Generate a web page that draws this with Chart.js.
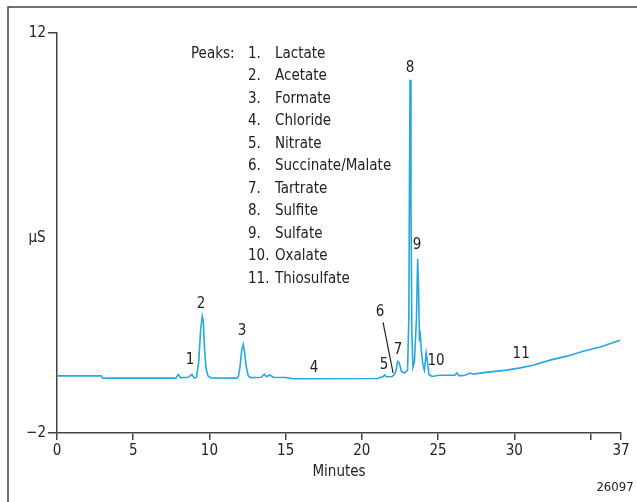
<!DOCTYPE html>
<html>
<head>
<meta charset="utf-8">
<script src="https://cdn.jsdelivr.net/npm/chart.js@4"></script>
<style>
  html, body { margin: 0; padding: 0; background: #fff; }
  #wrap { width: 637px; height: 502px; }
</style>
</head>
<body>
<div id="wrap"><canvas id="chromChart" width="637" height="502"></canvas></div>
<script>
// retention time (min) and conductivity (µS)
const times = [
  0, 2.9, 3.0, 7.8, 7.95, 8.1, 8.6, 8.85, 9.0,
  9.15, 9.3, 9.42, 9.53, 9.6, 9.68, 9.78, 9.9, 10.1, 11.8,
  11.9, 12.0, 12.12, 12.22, 12.3, 12.42, 12.55, 12.7, 13.4, 13.6, 13.75, 13.95, 14.2, 15.0, 15.5,
  21.0, 21.4, 21.5, 21.6, 22.0, 22.2, 22.35, 22.45, 22.6, 22.8, 23.0,
  23.08, 23.12, 23.16, 23.22, 23.28, 23.35, 23.45,
  23.58, 23.66, 23.72, 23.78, 23.84, 23.9, 24.0, 24.1,
  24.22, 24.3, 24.4, 24.6, 25.1, 26.1, 26.23, 26.4, 26.77, 27.1, 27.3,
  28.41, 29.51, 30.38, 31.23, 32.35, 33.44, 34.53, 35.63, 36.94
];
const conductivity = [
  0, 0, -0.08, -0.08, 0.05, -0.06, -0.05, 0.05, -0.08,
  -0.05, 0.5, 1.6, 2.09, 1.9, 0.9, 0.25, 0.0, -0.07, -0.08,
  -0.02, 0.3, 0.9, 1.1, 0.85, 0.3, 0.0, -0.06, -0.05, 0.06, -0.03, 0.03, -0.05, -0.06, -0.1,
  -0.09, -0.02, 0.03, -0.03, -0.02, 0.1, 0.5, 0.45, 0.15, 0.1, 0.2,
  2.0, 6.5, 10.36, 6.0, 1.5, 0.3, 0.5,
  2.0, 4.1, 3.0, 1.2, 1.4, 0.9, 0.4, 0.2,
  0.8, 0.5, 0.05, -0.02, 0.02, 0.02, 0.1, 0.0, 0.02, 0.1, 0.06,
  0.14, 0.2, 0.28, 0.37, 0.55, 0.69, 0.86, 1.01, 1.25
];

const xTicks = [0, 5, 10, 15, 20, 25, 30, 35, 37];
const xTickLabels = ['0', '5', '10', '15', '20', '25', '30', '', '37'];
const yTicks = [-2, 12];
const yTickLabels = ['\u22122', '12'];

const peakNames = ['Lactate', 'Acetate', 'Formate', 'Chloride', 'Nitrate', 'Succinate/Malate',
  'Tartrate', 'Sulfite', 'Sulfate', 'Oxalate', 'Thiosulfate'];
// where each peak number is written (minutes, µS)
const peakLabelTimes = [8.73, 9.45, 12.14, 16.86, 21.46, 21.19, 22.38, 23.16, 23.62, 24.87, 30.45];
const peakLabelValues = [0.55, 2.51, 1.57, 0.27, 0.37, 2.23, 0.9, 10.78, 4.58, 0.51, 0.76];

const FONT = "'Liberation Sans Narrow', 'DejaVu Sans Condensed', 'Arial Narrow', sans-serif";
const INK = '#222';

const annotations = {
  id: 'annotations',
  afterDraw(chart) {
    const ctx = chart.ctx;
    const xs = chart.scales.x, ys = chart.scales.y;
    ctx.save();

    // outer frame (only left and top edges visible)
    ctx.strokeStyle = '#444';
    ctx.lineWidth = 1.5;
    ctx.beginPath();
    ctx.moveTo(8, 502);
    ctx.lineTo(8, 7);
    ctx.lineTo(637, 7);
    ctx.stroke();

    ctx.fillStyle = INK;
    ctx.font = '15px ' + FONT;
    ctx.textBaseline = 'middle';
    ctx.textAlign = 'center';

    // peak numbers
    peakLabelTimes.forEach((t, i) => {
      ctx.fillText(String(i + 1), xs.getPixelForValue(t), ys.getPixelForValue(peakLabelValues[i]));
    });

    // leader for peak 6
    ctx.strokeStyle = INK;
    ctx.lineWidth = 1.2;
    ctx.beginPath();
    ctx.moveTo(xs.getPixelForValue(21.39), ys.getPixelForValue(1.87));
    ctx.lineTo(xs.getPixelForValue(22.05), ys.getPixelForValue(0.1));
    ctx.stroke();

    // peak list
    ctx.textAlign = 'left';
    ctx.fillText('Peaks:', 191, 54);
    peakNames.forEach((name, i) => {
      const y = 54 + i * 22.5;
      ctx.fillText((i + 1) + '.', 248, y);
      ctx.fillText(name, 275, y);
    });

    // axis label and figure id
    ctx.textAlign = 'center';
    ctx.fillText('\u00b5S', 37, 238);
    ctx.font = '13px ' + FONT;
    ctx.fillText('26097', 615, 488);

    ctx.restore();
  }
};

const ctx = document.getElementById('chromChart').getContext('2d');
new Chart(ctx, {
  type: 'line',
  data: {
    datasets: [{
      data: times.map((t, i) => ({ x: t, y: conductivity[i] })),
      borderColor: '#27a7df',
      borderWidth: 1.6,
      pointRadius: 0,
      tension: 0,
      fill: false
    }]
  },
  options: {
    responsive: false,
    animation: false,
    layout: { padding: { left: 0, right: 16, top: 33, bottom: 21 } },
    plugins: { legend: { display: false }, tooltip: { enabled: false } },
    scales: {
      x: {
        type: 'linear',
        min: 0,
        max: 37,
        afterBuildTicks: s => { s.ticks = xTicks.map(v => ({ value: v })); },
        afterFit: s => { s.height = 48; },
        ticks: {
          autoSkip: false,
          maxRotation: 0,
          padding: 2,
          color: INK,
          font: { family: FONT, size: 15 },
          callback: (v) => xTickLabels[xTicks.indexOf(v)]
        },
        grid: { drawOnChartArea: false, drawTicks: true, tickLength: 7, color: '#444', lineWidth: 1.5 },
        border: { display: true, color: '#444', width: 1.5 },
        title: { display: true, text: 'Minutes', color: INK, font: { family: FONT, size: 15 }, padding: { top: 2, bottom: 0 } }
      },
      y: {
        type: 'linear',
        min: -2,
        max: 12,
        afterBuildTicks: s => { s.ticks = yTicks.map(v => ({ value: v })); },
        afterFit: s => { s.width = 57; },
        ticks: {
          padding: 2,
          color: INK,
          font: { family: FONT, size: 15 },
          callback: (v) => yTickLabels[yTicks.indexOf(v)]
        },
        grid: { drawOnChartArea: false, drawTicks: true, tickLength: 9, color: '#444', lineWidth: 1.5 },
        border: { display: true, color: '#444', width: 1.5 }
      }
    }
  },
  plugins: [annotations]
});
</script>
</body>
</html>
